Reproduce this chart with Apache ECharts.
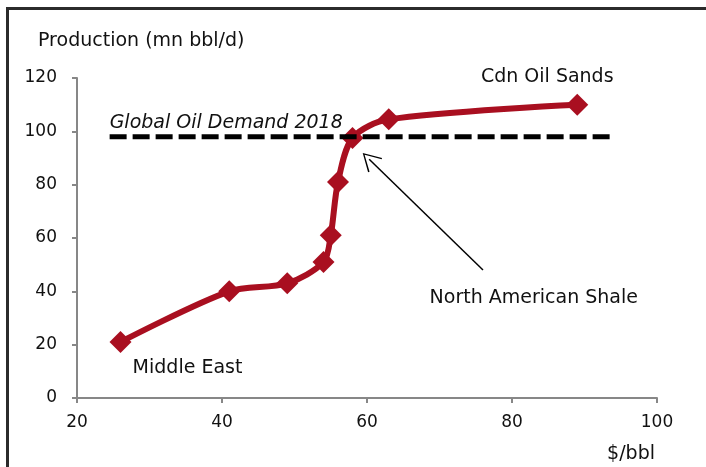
<!DOCTYPE html>
<html>
<head>
<meta charset="utf-8">
<script src="https://cdn.jsdelivr.net/npm/echarts@6/dist/echarts.min.js"></script>
<style>
  html, body { margin: 0; padding: 0; background: #fff; }
  #wrap { position: relative; width: 706px; height: 467px; }
  #frame {
    position: absolute; left: 6px; top: 7px; right: 0; bottom: 0;
    border-left: 3px solid #2b2b2b; border-top: 3px solid #2b2b2b;
  }
  #chart { position: absolute; left: 0; top: 0; width: 706px; height: 467px; }
</style>
</head>
<body>
<div id="wrap">
  <div id="frame"></div>
  <div id="chart"></div>
</div>
<script>
// supply cost curve: $/bbl vs cumulative production
const price = [26, 41, 49, 54, 55, 56, 58, 63, 89]
const production = [21, 40, 43, 51, 61, 81, 97.5, 104.5, 110]
// global oil demand 2018 line
const demandX = [24.5, 94]
const demandY = 98
// arrow pointing at north american shale
const arrowFrom = [76, 48]
const arrowTo = [60.3, 89.5]
const shaleLabelAt = [83, 38]
const xTicks = { min: 20, max: 100, interval: 20 }
const yTicks = { min: 0, max: 120, interval: 20 }

const red = '#A90F20'
const font = 'DejaVu Sans'
const noteSize = 19

let chart = echarts.init(document.getElementById('chart'))

let curve = price.map((p, i) => [p, production[i]])
curve[0] = {
  value: curve[0],
  label: { show: true, formatter: 'Middle East', position: 'bottom', offset: [67, 1] }
}
let last = curve.length - 1
curve[last] = {
  value: curve[last],
  label: { show: true, formatter: 'Cdn Oil Sands', position: 'top', offset: [-30, -2] }
}

let option = {
  animation: false,
  textStyle: { fontFamily: font },
  grid: { left: 77, right: 49, top: 78, bottom: 69 },
  title: [
    {
      text: 'Production (mn bbl/d)',
      left: 33, top: 27,
      textStyle: { fontFamily: font, fontSize: noteSize, fontWeight: 'normal', color: '#111' }
    },
    {
      text: '$/bbl',
      right: 46, top: 440,
      textStyle: { fontFamily: font, fontSize: noteSize, fontWeight: 'normal', color: '#111' }
    }
  ],
  xAxis: {
    type: 'value',
    min: xTicks.min, max: xTicks.max, interval: xTicks.interval,
    axisLine: { show: true, lineStyle: { color: '#878787', width: 2 } },
    axisTick: { show: true, length: 5, lineStyle: { color: '#878787', width: 2 } },
    axisLabel: { color: '#111', fontSize: 17, margin: 16 },
    splitLine: { show: false }
  },
  yAxis: {
    type: 'value',
    min: yTicks.min, max: yTicks.max, interval: yTicks.interval,
    axisLine: { show: true, lineStyle: { color: '#878787', width: 2 } },
    axisTick: { show: true, length: 5, lineStyle: { color: '#878787', width: 2 } },
    axisLabel: { color: '#111', fontSize: 17, margin: 20 },
    splitLine: { show: false }
  },
  series: [
    {
      name: 'supply',
      type: 'line',
      data: curve,
      smooth: 0.3,
      symbol: 'diamond',
      symbolSize: 22,
      lineStyle: { color: red, width: 6 },
      itemStyle: { color: red },
      label: { color: '#111', fontSize: noteSize },
      z: 2
    },
    {
      name: 'demand',
      type: 'line',
      data: [
        {
          value: [demandX[0], demandY],
          label: {
            show: true, formatter: 'Global Oil Demand 2018',
            position: 'top', align: 'left', distance: 4,
            fontStyle: 'italic', fontSize: noteSize, color: '#111'
          }
        },
        [demandX[1], demandY]
      ],
      symbol: 'circle',
      symbolSize: 1,
      showSymbol: true,
      itemStyle: { color: 'rgba(0,0,0,0)' },
      lineStyle: { color: '#000', width: 5, type: [17, 6] },
      z: 3
    },
    {
      name: 'shale',
      type: 'scatter',
      data: [{
        value: shaleLabelAt,
        label: {
          show: true, formatter: 'North American Shale',
          position: 'top', distance: 0, offset: [0, 11],
          color: '#111', fontSize: noteSize
        }
      }],
      symbolSize: 1,
      itemStyle: { color: 'rgba(0,0,0,0)', opacity: 1 },
      markLine: {
        silent: true,
        symbol: ['none', 'path://M10,0 L20,17.2 L18.7,18 L10,2.6 L1.3,18 L0,17.2 Z'],
        symbolSize: [20, 18],
        label: { show: false },
        lineStyle: { color: '#000', width: 1.5, type: 'solid' },
        data: [[{ coord: arrowFrom }, { coord: arrowTo }]]
      },
      z: 4
    }
  ]
}
chart.setOption(option)
</script>
</body>
</html>
